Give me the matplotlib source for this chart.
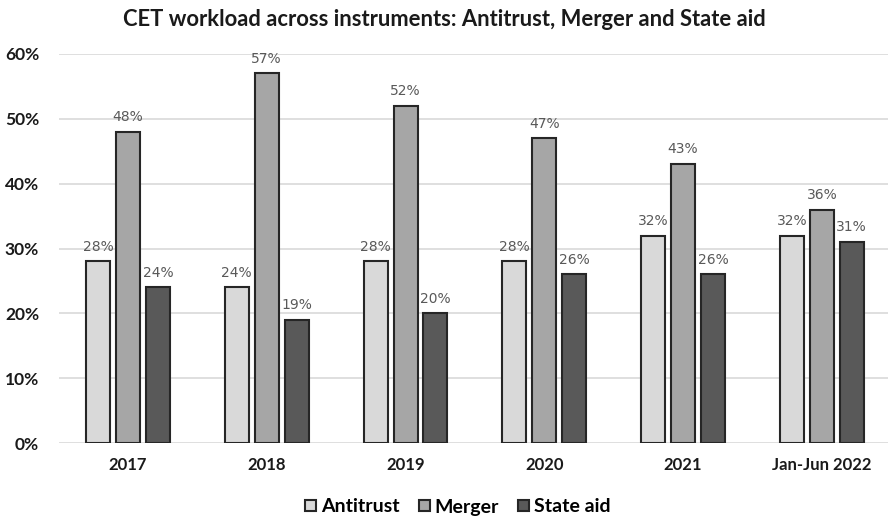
import matplotlib
matplotlib.use("Agg")
import matplotlib.pyplot as plt
import numpy as np

categories = ["2017", "2018", "2019", "2020", "2021", "Jan-Jun 2022"]
antitrust = [28, 24, 28, 28, 32, 32]
merger = [48, 57, 52, 47, 43, 36]
state_aid = [24, 19, 20, 26, 26, 31]
series_names = ["Antitrust", "Merger", "State aid"]
colors = ["#D9D9D9", "#A6A6A6", "#595959"]

plt.rcParams['font.family'] = ['Lato', 'DejaVu Sans']

fig = plt.figure(figsize=(8.88, 5.17), dpi=100)
ax = fig.add_axes([58.6/888, 74/517, 832.6/888, 389/517])

x = np.arange(len(categories))
w = 0.173
step = 0.216
for i, (vals, name, col) in enumerate(zip([antitrust, merger, state_aid], series_names, colors)):
    pos = x + (i - 1) * step
    bars = ax.bar(pos, np.array(vals) / 100, width=w, color=col, edgecolor="#262626",
                  linewidth=1.5, label=name, zorder=3)
    for p, v in zip(pos, vals):
        ax.text(p, v / 100 + 0.012, f"{v}%", ha="center", va="bottom",
                fontsize=10, color="#595959", family=['DejaVu Sans'])

ax.set_xlim(-0.5, len(categories) - 0.5)
ax.set_ylim(0, 0.6)
ax.set_yticks(np.arange(0, 0.61, 0.1))
ax.set_yticklabels([f"{int(round(t*100))}%" for t in np.arange(0, 0.61, 0.1)],
                   fontsize=12.5, fontweight="bold", color="#1a1a1a")
ax.set_xticks(x)
ax.set_xticklabels(categories, fontsize=12, fontweight="bold", color="#1a1a1a")
ax.tick_params(axis="both", length=0)
ax.tick_params(axis="y", pad=14)
ax.tick_params(axis="x", pad=10)
for s in ax.spines.values():
    s.set_visible(False)
ax.yaxis.grid(True, color="#D9D9D9", linewidth=1.2, zorder=0)
ax.set_axisbelow(True)

fig.text(0.5, 1 - 20/517, "CET workload across instruments: Antitrust, Merger and State aid",
         ha="center", va="center", fontsize=15.8, fontweight="bold", color="#1a1a1a")

leg = fig.legend(loc="center", bbox_to_anchor=(458/888, 1 - 507/517), ncol=3, frameon=False,
                 prop={'size': 14, 'weight': 'bold'}, handlelength=0.55, handleheight=0.55,
                 handletextpad=0.25, columnspacing=1.0)

fig.savefig("out.png", dpi=100)
